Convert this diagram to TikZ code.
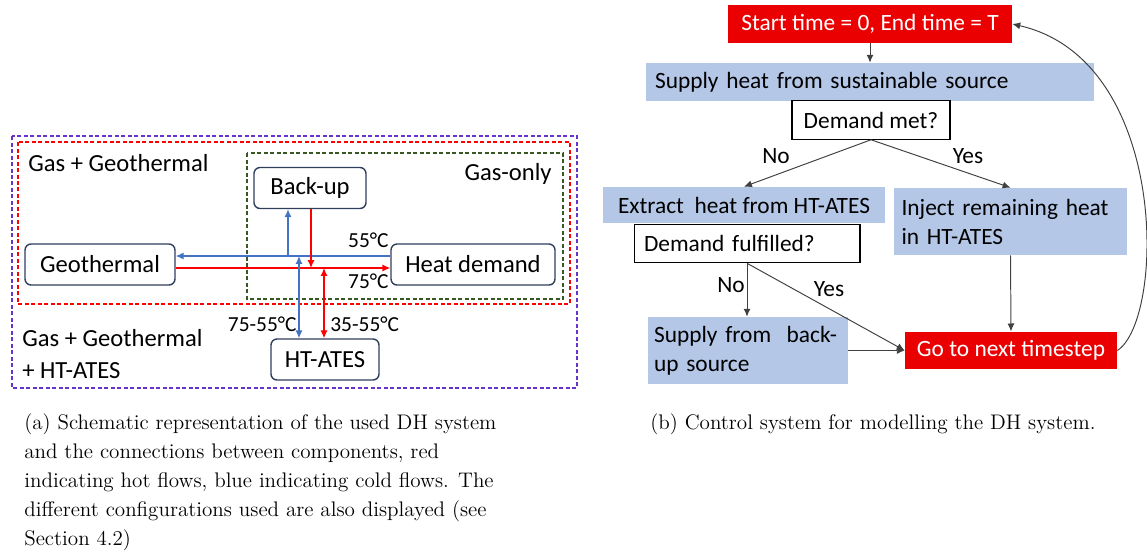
\documentclass[tikz,border=0pt]{standalone}
\usepackage{fontspec}
\usepackage{tikz}
\usetikzlibrary{positioning}
\usetikzlibrary{arrows.meta}

\newfontfamily\calibri{Carlito}
\newcommand{\lfont}{\calibri\fontsize{14}{16}\selectfont}
\newcommand{\rfont}{\calibri\fontsize{13.3}{16.5}\selectfont}

\definecolor{zonepurple}{RGB}{102,51,204}
\definecolor{zonered}{RGB}{255,0,0}
\definecolor{zonegreen}{RGB}{56,87,35}
\definecolor{compedge}{RGB}{47,62,92}
\definecolor{coldblue}{RGB}{68,114,196}
\definecolor{hotred}{RGB}{255,0,0}
\definecolor{taskblue}{RGB}{180,199,231}
\definecolor{termred}{RGB}{234,0,0}
\definecolor{flowgrey}{RGB}{64,64,64}

\begin{document}
\begin{tikzpicture}[x=0.02cm, y=-0.02cm, >={Latex[length=4.5pt,width=4pt]},
    comp/.style = {draw=compedge, line width=0.8pt, rounded corners=0.12cm, font=\lfont, minimum height=0.82cm, inner sep=0pt},
    zone/.style = {line width=0.9pt, dash pattern=on 0.08cm off 0.05cm},
    lbl/.style = {font=\lfont, inner sep=0pt},
    temp/.style = {font=\calibri\fontsize{12.2}{14}\selectfont, inner sep=0pt},
    cold/.style = {draw=coldblue, line width=0.7pt},
    hot/.style = {draw=hotred, line width=0.7pt},
    task/.style = {fill=taskblue, font=\rfont, inner xsep=0.18cm, align=left},
    query/.style = {draw=black, line width=0.6pt, fill=white, font=\rfont, minimum height=0.77cm, inner xsep=0.2cm, align=left},
    term/.style = {fill=termred, text=white, font=\rfont, minimum height=0.75cm, inner sep=0pt},
    flow/.style = {draw=flowgrey, line width=0.55pt, ->},
    subcap/.style = {font=\fontsize{12}{16.6}\selectfont, inner sep=0pt, align=left, anchor=north west}]
    \clip (0,0) rectangle (1147,552);

    % Configurations
    \draw[zone, draw=zonepurple] (12,136) rectangle (577,388);
    \draw[zone, draw=zonered] (18,142) rectangle (570,304);
    \draw[zone, draw=zonegreen] (247,153) rectangle (563,299);
    \node[lbl, anchor=west] (gg) at (28,163) {Gas + Geothermal};
    \node[lbl, anchor=east] (go) at (552,174) {Gas-only};
    \node[lbl, anchor=west, align=left, font=\calibri\fontsize{14}{18}\selectfont] (gga) at (22,354) {Gas + Geothermal\\+ HT-ATES};

    % Components
    \node[comp, minimum width=2.24cm] (bu) at (310,188) {Back-up};
    \node[comp, minimum width=3.0cm] (geo) at (100,264.5) {Geothermal};
    \node[comp, minimum width=3.28cm] (hd) at (473,264.5) {Heat demand};
    \node[comp, minimum width=2.16cm] (ht) at (325,359.5) {HT-ATES};

    % Pipes
    \coordinate (cl) at (0,256);
    \coordinate (hl) at (0,268);
    \coordinate (c1) at (288,256);
    \coordinate (c2) at (299,256);
    \coordinate (h1) at (311,268);
    \coordinate (h2) at (324,268);
    \draw[cold, ->] (hd.west |- cl) -- (geo.east |- cl);
    \draw[hot, ->] (geo.east |- hl) -- (hd.west |- hl);
    \draw[cold, ->] (c1) -- (c1 |- bu.south);
    \draw[hot, ->] (h1 |- bu.south) -- (h1);
    \draw[cold, <->] (c2) -- (c2 |- ht.north);
    \draw[hot, <->] (h2) -- (h2 |- ht.north);
    \node[temp, anchor=east] (t55) at (389,240) {55°C};
    \node[temp, anchor=east] (t75) at (389,281) {75°C};
    \node[temp, anchor=east] (tcold) at (297,324) {75-55°C};
    \node[temp, anchor=west] (thot) at (330,324) {35-55°C};

    % Control loop
    \node[term, minimum width=5.68cm] (start) at (870,24) {Start time = 0, End time = T};
    \node[task, minimum height=0.76cm, text width=8.6cm] (sup) at (870,82) {Supply heat from sustainable source};
    \node[query, minimum width=3.16cm, align=center] (met) at (871,120) {Demand met?};
    \node[task, minimum height=0.72cm, minimum width=5.64cm, inner xsep=0pt] (ext) at (744,205) {Extract~ heat from HT-ATES};
    \node[query, text width=4.12cm] (ful) at (747,243.5) {Demand fulfilled?};
    \node[task, minimum height=1.34cm, text width=4.36cm, inner xsep=0.15cm] (inj) at (1010.5,221.5) {Inject remaining heat\\in HT-ATES};
    \node[task, minimum height=1.34cm, text width=3.76cm, inner xsep=0.12cm] (bsup) at (748,350.5) {Supply from~ back-\\up source};
    \node[term, minimum width=4.24cm] (next) at (1011,350.5) {Go to next timestep};

    \draw[flow] (start) -- (sup);
    \draw[flow] (met.south) -- (ext.north);
    \draw[flow] (met.south) -- (inj.north);
    \draw[flow] (ful.south) -- (ful.south |- bsup.north);
    \draw[flow] (ful.south) -- (next.west);
    \draw[flow] (bsup.east |- next.west) -- (next.west);
    \draw[flow] (inj.south) -- (next.north);
    \draw[flow] (next.east) .. controls (1165,320) and (1170,60) .. (start.east);
    \node[font=\rfont, inner sep=0pt] (no1) at (776,156) {No};
    \node[font=\rfont, inner sep=0pt] (yes1) at (968,156) {Yes};
    \node[font=\rfont, inner sep=0pt] (no2) at (731,285) {No};
    \node[font=\rfont, inner sep=0pt] (yes2) at (829,289) {Yes};

    % Captions
    \node[subcap] (capa) at (24,413) {(a) Schematic representation of the used DH system\\and the connections between components, red\\indicating hot flows, blue indicating cold flows. The\\different configurations used are also displayed (see\\Section 4.2)};
    \node[subcap] (capb) at (650,413) {(b) Control system for modelling the DH system.};
\end{tikzpicture}
\end{document}
